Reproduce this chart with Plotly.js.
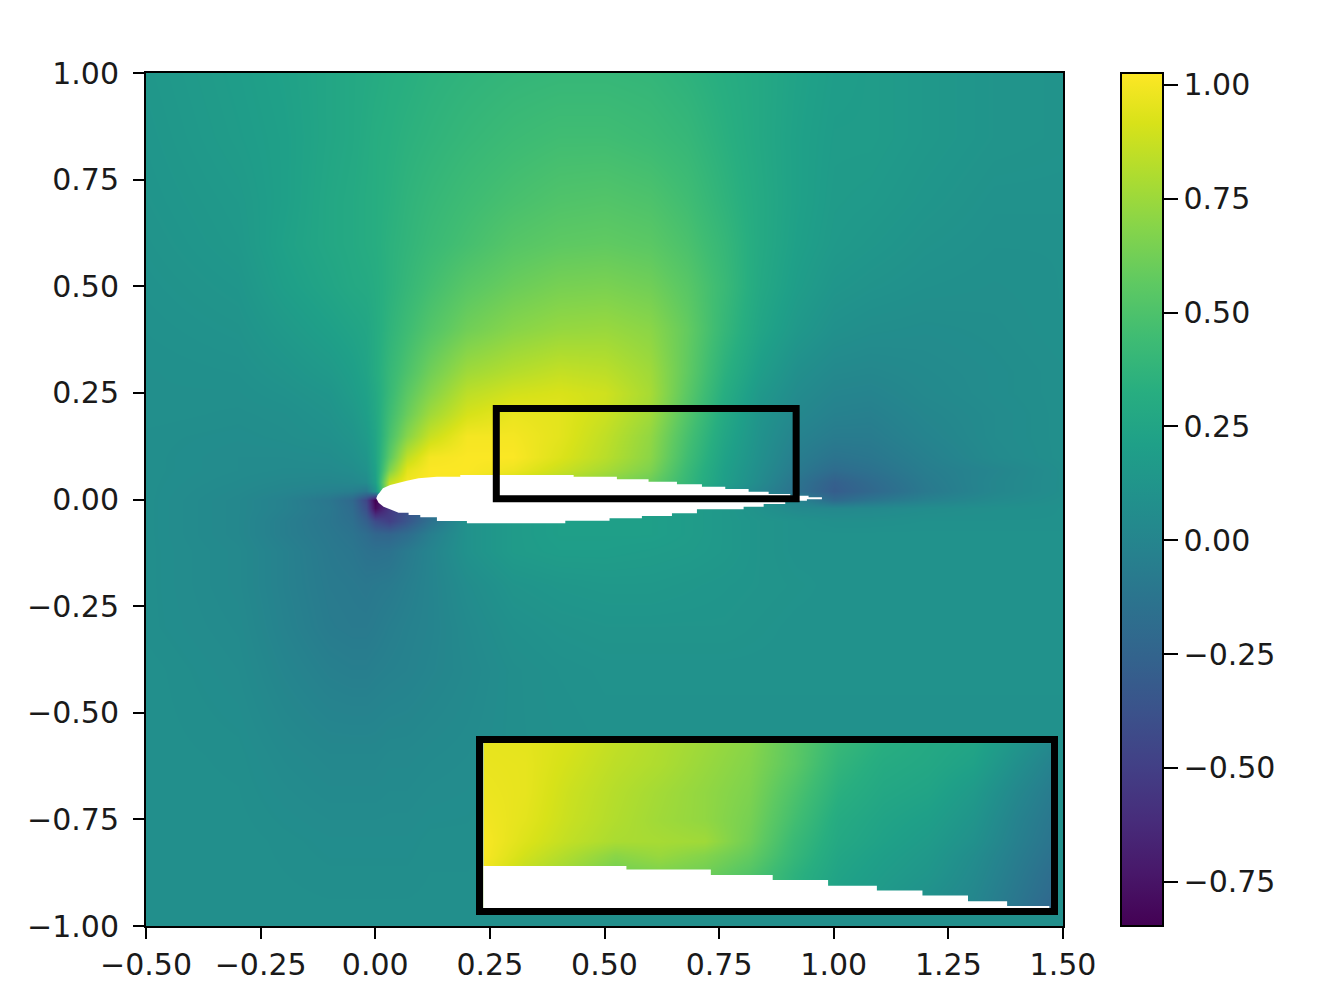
<!DOCTYPE html>
<html>
<head>
<meta charset="utf-8">
<script src="https://cdn.plot.ly/plotly-3.0.1.min.js"></script>
<style>body{margin:0;background:#fff}</style>
</head>
<body>
<div id="plot" style="width:1323px;height:999px"></div>
<script>
// field values, rows go top to bottom
var fieldX = [-0.5,-0.3,-0.2,-0.1,-0.05,-0.02,0,0.03,0.07,0.12,0.2,0.3,0.4,0.5,0.6,0.68,0.76,0.84,0.92,1.0,1.08,1.2,1.35,1.5];
var fieldY = [1.0,0.85,0.7,0.6,0.5,0.4,0.3,0.25,0.2,0.15,0.1,0.07,0.04,0.02,0,-0.02,-0.05,-0.08,-0.12,-0.2,-0.3,-0.4,-0.6,-0.8,-1.0];
var fieldZ = [
  [.14,.19,.22,.26,.28,.29,.30,.32,.33,.35,.37,.39,.40,.40,.39,.36,.32,.28,.23,.19,.18,.15,.12,.11],
  [.13,.18,.21,.26,.28,.30,.32,.33,.35,.37,.40,.43,.45,.45,.43,.40,.34,.28,.22,.18,.18,.15,.12,.11],
  [.12,.16,.21,.27,.29,.31,.32,.34,.37,.40,.44,.48,.51,.52,.50,.45,.37,.29,.22,.17,.16,.13,.10,.10],
  [.11,.15,.22,.27,.29,.31,.32,.35,.38,.42,.47,.53,.56,.57,.55,.49,.40,.29,.21,.16,.14,.11,.09,.09],
  [.10,.13,.20,.25,.28,.29,.31,.35,.40,.46,.54,.60,.64,.65,.62,.54,.42,.28,.19,.13,.11,.09,.08,.09],
  [.09,.11,.16,.21,.24,.26,.30,.37,.44,.52,.62,.69,.73,.74,.70,.58,.40,.25,.15,.09,.07,.06,.07,.09],
  [.08,.09,.12,.16,.20,.24,.30,.40,.50,.62,.76,.82,.86,.84,.76,.57,.35,.19,.08,.03,.02,.04,.06,.08],
  [.08,.08,.10,.13,.18,.22,.28,.41,.55,.68,.84,.90,.92,.89,.78,.55,.32,.15,.05,.00,-.01,.03,.06,.08],
  [.08,.07,.08,.11,.15,.20,.27,.44,.60,.76,.91,.97,.95,.88,.76,.52,.29,.12,.02,-.03,-.04,.01,.05,.08],
  [.07,.06,.07,.09,.12,.17,.25,.48,.69,.87,1.0,1.0,.95,.85,.72,.48,.26,.10,-.02,-.07,-.07,-.01,.05,.08],
  [.07,.05,.05,.06,.09,.13,.24,.55,.85,1.0,1.02,1.02,.93,.83,.70,.45,.23,.08,-.06,-.13,-.11,-.04,.04,.08],
  [.07,.05,.04,.04,.06,.10,.22,.66,.95,1.02,1.02,.98,.88,.78,.66,.42,.21,.06,-.09,-.19,-.15,-.06,.00,.07],
  [.07,.04,.02,.01,.02,.05,.20,.85,1.0,1.02,1.0,.90,.80,.70,.60,.40,.20,.04,-.13,-.28,-.20,-.08,.01,.07],
  [.07,.03,.00,-.03,-.05,-.10,.10,.90,1.0,1.0,.95,.85,.75,.65,.55,.35,.15,.00,-.15,-.30,-.22,-.09,.01,.07],
  [.07,.02,-.03,-.11,-.21,-.45,-.85,-.60,-.40,-.20,.10,.15,.20,.20,.20,.18,.15,.10,.00,-.20,-.12,-.03,.04,.08],
  [.07,.02,-.03,-.10,-.19,-.40,-.80,-.55,-.40,-.20,.10,.15,.20,.20,.20,.18,.15,.10,.03,.02,.03,.06,.08,.09],
  [.07,.02,-.05,-.11,-.16,-.28,-.42,-.50,-.35,-.15,.10,.17,.20,.20,.20,.18,.15,.12,.10,.08,.08,.09,.09,.09],
  [.07,.02,-.05,-.10,-.13,-.18,-.23,-.24,-.18,-.05,.10,.17,.20,.20,.20,.18,.15,.12,.10,.10,.10,.10,.10,.10],
  [.07,.03,-.03,-.09,-.11,-.14,-.15,-.14,-.08,-.01,.10,.17,.19,.19,.18,.17,.15,.12,.10,.10,.10,.10,.10,.10],
  [.07,.03,-.03,-.08,-.09,-.10,-.09,-.08,-.05,-.01,.06,.12,.14,.15,.15,.14,.13,.12,.11,.10,.10,.10,.10,.10],
  [.07,.04,-.02,-.07,-.08,-.08,-.07,-.05,-.03,-.01,.04,.09,.11,.12,.12,.12,.12,.11,.10,.10,.10,.10,.10,.10],
  [.08,.05,.00,-.04,-.05,-.05,-.04,-.03,-.02,.00,.03,.07,.09,.10,.10,.10,.10,.10,.10,.10,.10,.10,.10,.10],
  [.08,.07,.04,.02,.02,.02,.02,.03,.03,.04,.05,.07,.08,.09,.09,.09,.09,.09,.09,.09,.09,.09,.09,.09],
  [.08,.08,.07,.06,.06,.06,.06,.06,.06,.07,.07,.08,.08,.08,.08,.08,.08,.08,.09,.09,.09,.09,.09,.09],
  [.08,.08,.08,.08,.08,.08,.08,.08,.08,.08,.08,.08,.08,.08,.08,.08,.08,.08,.08,.08,.08,.08,.08,.08]
];

// zoomed in values for the inset
var insetX = [0.27,0.32,0.37,0.42,0.47,0.52,0.57,0.62,0.67,0.72,0.77,0.82,0.87,0.91];
var insetY = [0.205,0.17,0.14,0.11,0.085,0.07,0.05,0.03,0.01];
var insetZ = [
  [.96,.95,.92,.86,.81,.76,.70,.56,.42,.34,.29,.26,.15,.05],
  [.97,.96,.90,.84,.80,.74,.68,.55,.38,.30,.27,.22,.08,-.03],
  [.98,.96,.88,.82,.77,.72,.66,.50,.34,.27,.24,.16,.02,-.08],
  [1.0,.95,.87,.81,.76,.72,.64,.46,.30,.24,.20,.12,-.02,-.11],
  [1.02,.93,.85,.79,.78,.76,.62,.42,.28,.22,.17,.09,-.04,-.13],
  [1.02,.90,.80,.70,.74,.68,.58,.40,.26,.20,.15,.06,-.06,-.15],
  [1.0,.85,.74,.62,.66,.62,.52,.36,.24,.18,.13,.04,-.08,-.18],
  [.98,.78,.72,.60,.64,.60,.50,.34,.22,.16,.10,.02,-.10,-.20],
  [.98,.78,.72,.60,.64,.60,.50,.34,.22,.16,.10,.00,-.12,-.24]
];

// airfoil outline (the blank area of the field), stair corners as in the picture
var foilX = [.0022,.0051,.0109,.0167,.0327,.0509,.0691,.0945,.1345,.1854,.1854,.4327,.4327,.527,.527,.5961,.5961,.658,.658,.7125,.7125,.7634,.7634,.8143,.8143,.858,.858,.9052,.9052,.9451,.9451,.9742,.9742,.9415,.9415,.8942,.8942,.8471,.8471,.8034,.8034,.7016,.7016,.6471,.6471,.5816,.5816,.511,.511,.4145,.4145,.1999,.1999,.1345,.1345,.0982,.0982,.0727,.0727,.0509,.0182,.0073,.0022];
var foilY = [.0027,.0106,.0184,.0262,.034,.0395,.0442,.0496,.0535,.0535,.0574,.0574,.0535,.0535,.0473,.0473,.0418,.0418,.0356,.0356,.0301,.0301,.0246,.0246,.0184,.0184,.0129,.0129,.009,.009,.0051,.0051,.0004,.0004,-.0027,-.0027,-.0106,-.0106,-.0168,-.0168,-.0231,-.0231,-.0324,-.0324,-.0387,-.0387,-.0442,-.0442,-.0496,-.0496,-.0559,-.0559,-.0504,-.0504,-.0418,-.0418,-.0363,-.0363,-.0309,-.0309,-.0168,-.0074,.0027];

var xTicks = [-0.5,-0.25,0,0.25,0.5,0.75,1,1.25,1.5];
var yTicks = [-1,-0.75,-0.5,-0.25,0,0.25,0.5,0.75,1];
var barTicks = [-0.75,-0.5,-0.25,0,0.25,0.5,0.75,1];
var zMin = -0.847, zMax = 1.026;

var tickFont = {family: "DejaVu Sans", size: 30, color: "#1a1a1a"};

var field = {
  type: "heatmap", x: fieldX, y: fieldY, z: fieldZ,
  colorscale: "Viridis", zmin: zMin, zmax: zMax, zsmooth: "best", hoverinfo: "skip",
  colorbar: {
    thickness: 42, thicknessmode: "pixels", len: 1, lenmode: "fraction",
    x: 1.0632, xanchor: "left", xpad: 0, y: 0.5, yanchor: "middle", ypad: 0,
    outlinecolor: "#000", outlinewidth: 2,
    tickvals: barTicks, tickformat: ".2f", ticks: "outside", ticklen: 14, tickwidth: 2, tickcolor: "#000",
    tickfont: tickFont
  }
};
var foil = {
  type: "scatter", mode: "lines", x: foilX, y: foilY, fill: "toself", fillcolor: "#fff",
  line: {width: 0}, hoverinfo: "skip", showlegend: false
};
var inset = {
  type: "heatmap", x: insetX, y: insetY, z: insetZ, xaxis: "x2", yaxis: "y2",
  colorscale: "Viridis", zmin: zMin, zmax: zMax, zsmooth: "best", showscale: false, hoverinfo: "skip"
};
var insetFoil = {
  type: "scatter", mode: "lines", x: foilX, y: foilY, xaxis: "x2", yaxis: "y2", fill: "toself", fillcolor: "#fff",
  line: {width: 0}, hoverinfo: "skip", showlegend: false
};

var mainAxis = {
  showgrid: false, zeroline: false, showline: true, mirror: true, linecolor: "#000", linewidth: 2,
  ticks: "outside", ticklen: 11, tickwidth: 2, tickcolor: "#000", tickformat: ".2f", tickfont: tickFont
};

var layout = {
  width: 1323, height: 999,
  margin: {l: 146, r: 260, t: 73, b: 73, pad: 0},
  paper_bgcolor: "#fff", plot_bgcolor: "#fff",
  showlegend: false,
  xaxis: Object.assign({}, mainAxis, {range: [-0.5, 1.5], tickvals: xTicks}),
  yaxis: Object.assign({}, mainAxis, {range: [-1, 1], tickvals: yTicks, ticklabelstandoff: 8}),
  xaxis2: {domain: [0.368, 0.9869], anchor: "y2", range: [0.273, 0.907], showgrid: false, zeroline: false,
    showticklabels: false, ticks: "", showline: true, mirror: true, linecolor: "#000", linewidth: 7},
  yaxis2: {domain: [0.0211, 0.2145], anchor: "x2", range: [0.0108, 0.1938], showgrid: false, zeroline: false,
    showticklabels: false, ticks: "", showline: true, mirror: true, linecolor: "#000", linewidth: 7},
  shapes: [{type: "rect", xref: "x", yref: "y", x0: 0.264, x1: 0.918, y0: 0.002, y1: 0.2134,
    line: {color: "#000", width: 7}, fillcolor: "rgba(0,0,0,0)"}]
};

Plotly.newPlot("plot", [field, foil, inset, insetFoil], layout, {displayModeBar: false});
</script>
</body>
</html>
